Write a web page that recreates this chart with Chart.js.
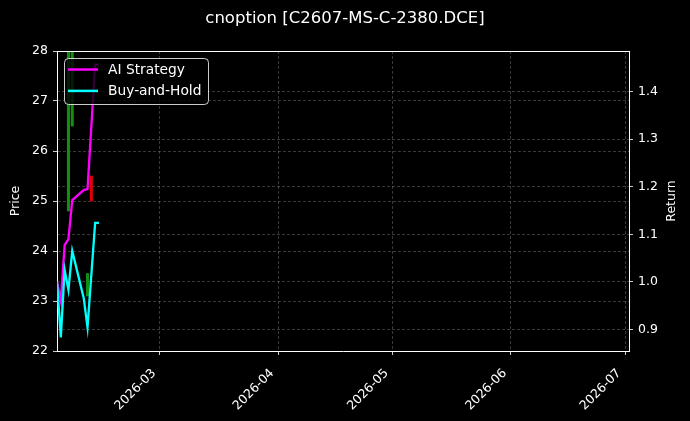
<!DOCTYPE html>
<html>
<head>
	<meta charset="utf-8">
	<title>cnoption C2607-MS-C-2380.DCE</title>
	<style>
		html, body { margin: 0; padding: 0; background: #000; }
		canvas { display: block; }
	</style>
	<script src="https://cdn.jsdelivr.net/npm/chart.js"></script>
</head>
<body>
	<canvas id="btChart" width="690" height="421"></canvas>

	<script>
		// backtest days and the two return curves
		const dates = ['2026-02-02', '2026-02-03', '2026-02-04', '2026-02-05', '2026-02-06', '2026-02-09', '2026-02-10', '2026-02-12', '2026-02-13'];
		const aiStrategy = [1.0, 0.96, 1.077, 1.09, 1.172, 1.193, 1.195, 1.457, 1.457];
		const buyAndHold = [1.0, 0.883, 1.025, 0.983, 1.065, 0.966, 0.904, 1.124, 1.124];

		// price candles (low / high), true = up day
		const candleDates = ['2026-02-05', '2026-02-06', '2026-02-10', '2026-02-11'];
		const candleLow = [24.8, 26.5, 23.1, 25.0];
		const candleHigh = [29.0, 29.0, 23.55, 25.5];
		const candleUp = [true, true, true, false];

		// axes
		const monthTicks = ['2026-03', '2026-04', '2026-05', '2026-06', '2026-07'];
		const xStart = '2026-02-02';
		const xEnd = '2026-07-02';
		const returnTicks = [0.9, 1.0, 1.1, 1.2, 1.3, 1.4];

		const day = s => Date.parse(s + 'T00:00:00Z');
		const ym = v => new Date(v).toISOString().slice(0, 7);

		Chart.defaults.font.family = "'DejaVu Sans', sans-serif";
		Chart.defaults.color = '#ffffff';

		const gridColor = 'rgba(255,255,255,0.28)';

		// matplotlib style legend inside the axes + top spine + axis labels
		const extras = {
			id: 'extras',
			afterDatasetsDraw(chart) {
				const ctx = chart.ctx;
				const a = chart.chartArea;
				const items = chart.data.datasets.filter(d => d.type === 'line');
				const x = a.left + 7, y = a.top + 7, w = 144, h = 46;
				ctx.save();
				ctx.beginPath();
				ctx.roundRect(x + 0.5, y + 0.5, w, h, 4);
				ctx.fillStyle = 'rgba(0,0,0,0.8)';
				ctx.fill();
				ctx.strokeStyle = 'rgba(255,255,255,0.8)';
				ctx.lineWidth = 1;
				ctx.stroke();
				ctx.font = "13.8px 'DejaVu Sans'";
				ctx.textBaseline = 'middle';
				items.forEach((ds, i) => {
					const cy = y + 11.5 + i * 21.4;
					ctx.strokeStyle = ds.borderColor;
					ctx.lineWidth = 2.5;
					ctx.beginPath();
					ctx.moveTo(x + 4, cy);
					ctx.lineTo(x + 34, cy);
					ctx.stroke();
					ctx.fillStyle = '#ffffff';
					ctx.fillText(ds.label, x + 44, cy + 1);
				});
				ctx.restore();
			},
			afterDraw(chart) {
				const ctx = chart.ctx;
				const a = chart.chartArea;
				ctx.save();
				ctx.strokeStyle = '#ffffff';
				ctx.lineWidth = 1;
				ctx.beginPath();
				ctx.moveTo(Math.round(a.left), Math.round(a.top) + 0.5);
				ctx.lineTo(Math.round(a.right), Math.round(a.top) + 0.5);
				ctx.stroke();

				ctx.fillStyle = '#ffffff';
				ctx.font = "12.5px 'DejaVu Sans'";
				ctx.textAlign = 'center';
				ctx.textBaseline = 'middle';
				const midY = (a.top + a.bottom) / 2;
				ctx.translate(16, midY);
				ctx.rotate(-Math.PI / 2);
				ctx.fillText('Price', 0, 0);
				ctx.setTransform(1, 0, 0, 1, 0, 0);
				ctx.translate(672, midY);
				ctx.rotate(-Math.PI / 2);
				ctx.fillText('Return', 0, 0);
				ctx.restore();
			}
		};

		const ctx = document.getElementById('btChart').getContext('2d');

		const btChart = new Chart(ctx, {
			type: 'bar',
			data: {
				datasets: [
					{
						type: 'bar',
						label: 'Price',
						data: candleDates.map((d, i) => ({ x: day(d), y: [candleLow[i], candleHigh[i]] })),
						backgroundColor: candleUp.map(u => u ? 'rgba(20,150,20,0.95)' : '#e00000'),
						barThickness: 2.4,
						yAxisID: 'y',
						clip: 0,
						order: 3
					},
					{
						type: 'line',
						label: 'AI Strategy',
						data: dates.map((d, i) => ({ x: day(d), y: aiStrategy[i] })),
						borderColor: '#ff00ff',
						borderWidth: 2.3,
						pointRadius: 0,
						tension: 0,
						yAxisID: 'y1',
						order: 2
					},
					{
						type: 'line',
						label: 'Buy-and-Hold',
						data: dates.map((d, i) => ({ x: day(d), y: buyAndHold[i] })),
						borderColor: '#00ffff',
						borderWidth: 2.3,
						pointRadius: 0,
						tension: 0,
						yAxisID: 'y1',
						order: 1
					}
				]
			},
			options: {
				responsive: false,
				animation: false,
				devicePixelRatio: 1,
				layout: { padding: 0 },
				plugins: {
					legend: { display: false },
					tooltip: { enabled: false },
					title: {
						display: true,
						text: 'cnoption [C2607-MS-C-2380.DCE]',
						color: '#ffffff',
						font: { size: 16.5, weight: 'normal' },
						padding: { top: 9, bottom: 22.2 }
					}
				},
				scales: {
					x: {
						type: 'linear',
						position: 'bottom',
						offset: false,
						min: day(xStart),
						max: day(xEnd),
						afterBuildTicks: s => { s.ticks = monthTicks.map(m => ({ value: day(m + '-01') })); },
						afterFit: s => { s.height = 70; },
						ticks: {
							color: '#ffffff',
							font: { size: 12.5 },
							autoSkip: false,
							minRotation: 45,
							maxRotation: 45,
							padding: 11,
							labelOffset: -6,
							callback: v => ym(v)
						},
						grid: { offset: false, color: gridColor, lineWidth: 0.8, tickColor: '#ffffff', tickLength: 4 },
						border: { color: '#ffffff', dash: [3, 2] }
					},
					y: {
						position: 'left',
						min: 22,
						max: 28,
						afterFit: s => { s.width = 57; },
						ticks: { color: '#ffffff', font: { size: 12.5 }, stepSize: 1, padding: 5 },
						grid: { color: gridColor, lineWidth: 0.8, tickColor: '#ffffff', tickLength: 4 },
						border: { color: '#ffffff', dash: [3, 2] }
					},
					y1: {
						position: 'right',
						min: 0.8543,
						max: 1.4857,
						afterBuildTicks: s => { s.ticks = returnTicks.map(v => ({ value: v })); },
						afterFit: s => { s.width = 61; },
						ticks: { color: '#ffffff', font: { size: 12.5 }, padding: 5, callback: v => v.toFixed(1) },
						grid: { color: gridColor, lineWidth: 0.8, tickColor: '#ffffff', tickLength: 4 },
						border: { color: '#ffffff', dash: [3, 2] }
					}
				}
			},
			plugins: [extras]
		});
	</script>
</body>
</html>
